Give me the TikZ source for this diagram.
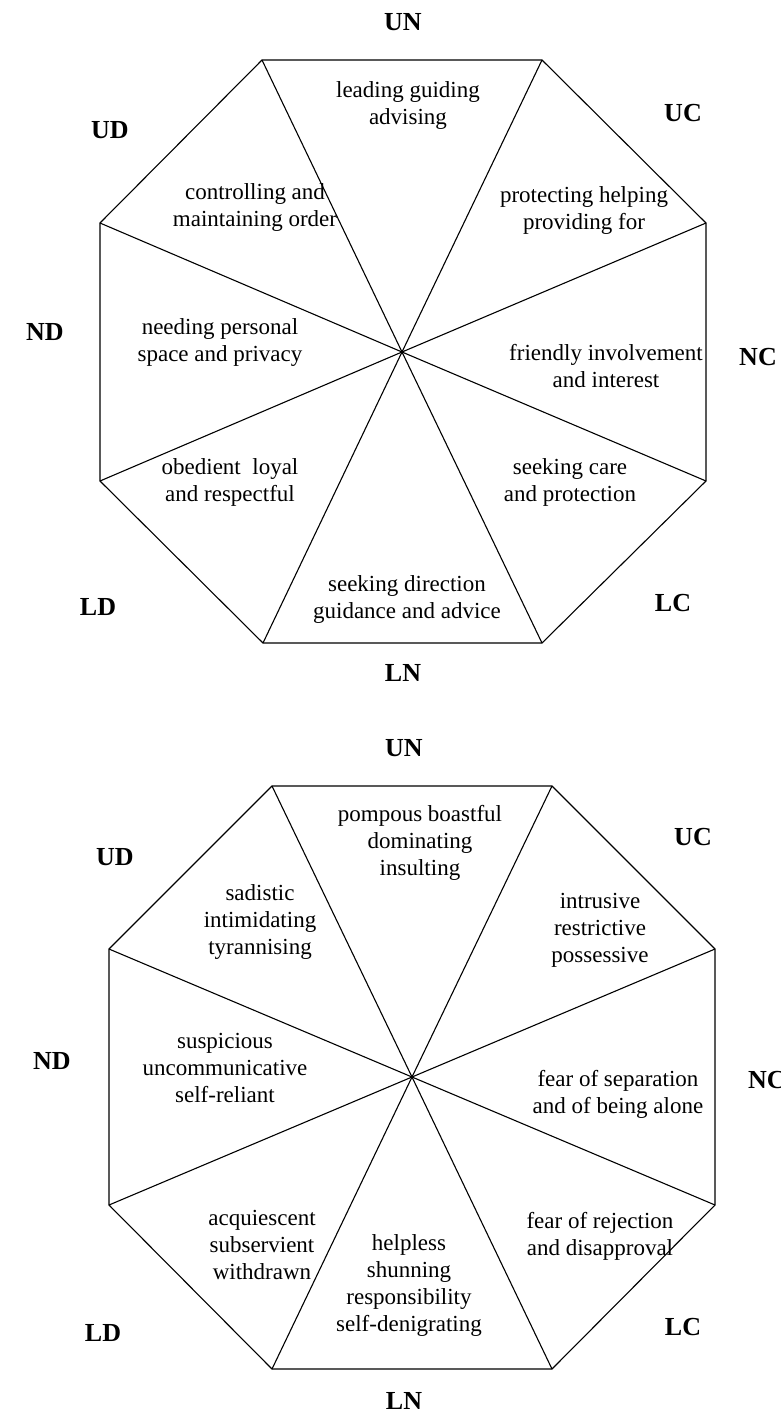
\documentclass[tikz,border=0pt]{standalone}
\usepackage{fontspec}
\setmainfont{Liberation Serif}

\begin{document}
\begin{tikzpicture}[x=1pt,y=-1pt]
	\tikzstyle{region} = [align=center, inner sep=0pt, font=\fontsize{23}{27}\selectfont]
	\tikzstyle{pole} = [inner sep=0pt, font=\fontsize{26}{30}\selectfont\bfseries]
	\tikzstyle{edge} = [line width=1.1pt, line join=miter]

	\useasboundingbox (0,0) rectangle (781,1414);

%----------upper octagon-------------------------------------
	\coordinate (c1) at (402,352);
	\coordinate (v1a) at (262,60);
	\coordinate (v1b) at (542,60);
	\coordinate (v1c) at (706,223);
	\coordinate (v1d) at (706,481);
	\coordinate (v1e) at (542,643);
	\coordinate (v1f) at (263,643);
	\coordinate (v1g) at (100,481);
	\coordinate (v1h) at (100,223);

	\draw[edge] (v1a)--(v1b)--(v1c)--(v1d)--(v1e)--(v1f)--(v1g)--(v1h)--cycle;
	\foreach \v in {v1a,v1b,v1c,v1d,v1e,v1f,v1g,v1h}
		\draw[edge] (c1)--(\v);

	\node[region] (r1un) at (408,105) {leading guiding\\advising};
	\node[region] (r1uc) at (584,210) {protecting helping\\providing for};
	\node[region] (r1ud) at (255,207) {controlling and\\maintaining order};
	\node[region] (r1nd) at (220,342) {needing personal\\space and privacy};
	\node[region] (r1nc) at (606,366) {friendly involvement\\and interest};
	\node[region] (r1lc) at (570,482) {seeking care\\and protection};
	\node[region] (r1ld) at (230,482) {obedient~ loyal\\and respectful};
	\node[region] (r1ln) at (407,599) {seeking direction\\guidance and advice};

	\node[pole] (p1un) at (403,22) {UN};
	\node[pole] (p1uc) at (683,113) {UC};
	\node[pole] (p1nc) at (758,357) {NC};
	\node[pole] (p1nd) at (45,332) {ND};
	\node[pole] (p1ud) at (110,130) {UD};
	\node[pole] (p1ld) at (98,607) {LD};
	\node[pole] (p1ln) at (403,673) {LN};
	\node[pole] (p1lc) at (673,603) {LC};

%----------lower octagon-------------------------------------
	\coordinate (c2) at (412,1077);
	\coordinate (v2a) at (272,786);
	\coordinate (v2b) at (552,786);
	\coordinate (v2c) at (715,949);
	\coordinate (v2d) at (715,1205);
	\coordinate (v2e) at (552,1369);
	\coordinate (v2f) at (272,1369);
	\coordinate (v2g) at (109,1205);
	\coordinate (v2h) at (109,949);

	\draw[edge] (v2a)--(v2b)--(v2c)--(v2d)--(v2e)--(v2f)--(v2g)--(v2h)--cycle;
	\foreach \v in {v2a,v2b,v2c,v2d,v2e,v2f,v2g,v2h}
		\draw[edge] (c2)--(\v);

	\node[region] (r2un) at (420,843) {pompous boastful\\dominating\\insulting};
	\node[region] (r2uc) at (600,930) {intrusive\\restrictive\\possessive};
	\node[region] (r2ud) at (260,922) {sadistic\\intimidating\\tyrannising};
	\node[region] (r2nd) at (225,1068) {suspicious\\uncommunicative\\self-reliant};
	\node[region] (r2nc) at (618,1094) {fear of separation\\and of being alone};
	\node[region] (r2lc) at (600,1236) {fear of rejection\\and disapproval};
	\node[region] (r2ld) at (262,1245) {acquiescent\\subservient\\withdrawn};
	\node[region] (r2ln) at (409,1285) {helpless\\shunning\\responsibility\\self-denigrating};

	\node[pole] (p2un) at (404,748) {UN};
	\node[pole] (p2uc) at (693,837) {UC};
	\node[pole, anchor=west] (p2nc) at (748,1080) {NC};
	\node[pole] (p2nd) at (52,1061) {ND};
	\node[pole] (p2ud) at (115,857) {UD};
	\node[pole] (p2ld) at (103,1333) {LD};
	\node[pole] (p2ln) at (404,1401) {LN};
	\node[pole] (p2lc) at (683,1327) {LC};

\end{tikzpicture}
\end{document}
